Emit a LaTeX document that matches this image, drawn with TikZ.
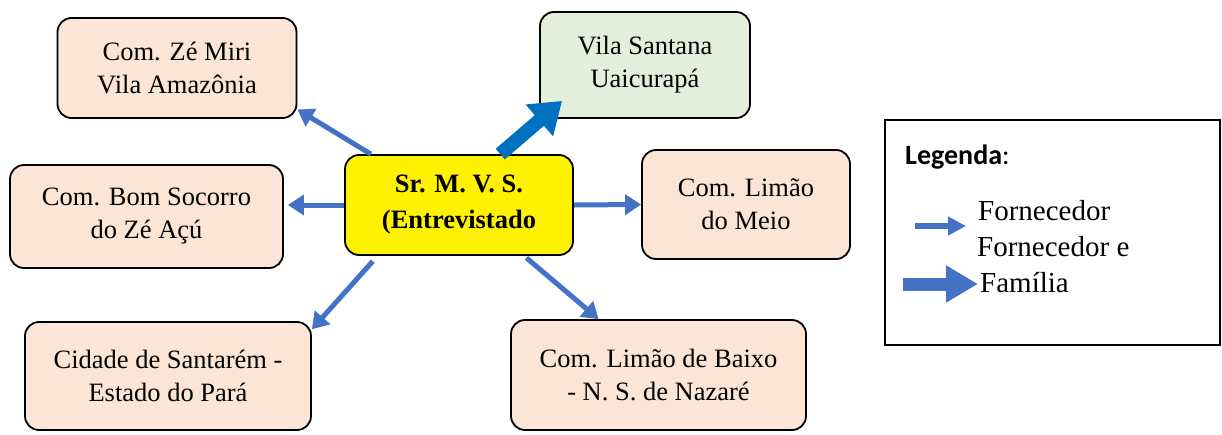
\documentclass[tikz,border=0pt]{standalone}
\usepackage{fontspec}
\setmainfont{Liberation Serif}
\newfontfamily\legendafont{Carlito}
\usepackage{tikz}
\usetikzlibrary{positioning, arrows.meta, calc}
\usepackage{xcolor}
\definecolor{pessego}{HTML}{FBE5D6}
\definecolor{verdeclaro}{HTML}{E2EFDA}
\definecolor{azul}{HTML}{4472C4}
\definecolor{azulforte}{HTML}{0070C0}

\begin{document}
\begin{tikzpicture}[
    x=1pt, y=-1pt,
    caixa/.style={draw, line width=1.8pt, rounded corners=14pt, fill=pessego,
        align=center, inner sep=0pt, font=\fontsize{26.5}{33}\selectfont},
    fornece/.style={draw=azul, line width=5pt, -{Triangle[length=16pt, width=20pt]}},
    familia/.style={draw=azulforte, line width=14pt, -{Triangle[length=30pt, width=40pt]}},
    legtexto/.style={anchor=base west, inner sep=0pt, font=\fontsize{29}{36}\selectfont}
]
    \useasboundingbox (0,0) rectangle (1222,434);

    % Define nodes
    \node[caixa, fill=yellow, minimum width=228pt, minimum height=100pt,
        font=\fontsize{26.5}{36}\selectfont\bfseries] (centro) at (459,205)
        {Sr. M. V. S.\\(Entrevistado};
    \node[caixa, minimum width=239pt, minimum height=100pt] (zemiri) at (177,68)
        {Com. Zé Miri\\Vila Amazônia};
    \node[caixa, fill=verdeclaro, minimum width=210pt, minimum height=106pt] (vila) at (645,65)
        {Vila Santana\\Uaicurapá};
    \node[caixa, minimum width=273pt, minimum height=103pt] (bomsocorro) at (146.5,216.5)
        {Com. Bom Socorro\\do Zé Açú};
    \node[caixa, minimum width=208pt, minimum height=109pt] (limaomeio) at (746,204.5)
        {Com. Limão\\do Meio};
    \node[caixa, minimum width=286pt, minimum height=108pt] (santarem) at (168,376)
        {Cidade de Santarém -\\Estado do Pará};
    \node[caixa, minimum width=295pt, minimum height=110pt] (limaobaixo) at (658.5,375)
        {Com. Limão de Baixo\\- N. S. de Nazaré};

    % Connectors
    \draw[fornece] (centro.150) -- (zemiri.-19);
    \draw[fornece, shorten >=4pt] (centro.west) -- (centro.west -| bomsocorro.east);
    \draw[fornece, shorten <=7pt] (centro.-148) -- (santarem.18);
    \draw[fornece] (centro.east) -- (limaomeio.west);
    \draw[fornece, shorten <=3pt] (centro.-38) -- (limaobaixo.137);
    \draw[familia] (centro.51) -- ($(vila.south west)+(23,-18)$);

    % Legend
    \node[draw, line width=1.5pt, minimum width=335pt, minimum height=225pt, inner sep=0pt]
        (legenda) at (1052.5,232.5) {};
    \node[anchor=base west, inner sep=0pt, font=\fontsize{28}{34}\selectfont\legendafont]
        (legtitulo) at (905,164) {\textbf{Legenda}:};
    \node[legtexto] (legforn) at (978,220) {Fornecedor};
    \node[legtexto] (legforne) at (977,256) {Fornecedor e};
    \node[legtexto] (legfam) at (980,292) {Família};
    \coordinate (fini) at (915,226);
    \coordinate (ffim) at (966,226);
    \coordinate (gini) at (903,284);
    \coordinate (gfim) at (978,284);
    \draw[fornece, line width=6.5pt, -{Triangle[length=18pt, width=18pt]}] (fini) -- (ffim);
    \draw[familia, draw=azul, line width=13pt, -{Triangle[length=32pt, width=35pt]}] (gini) -- (gfim);
\end{tikzpicture}
\end{document}
